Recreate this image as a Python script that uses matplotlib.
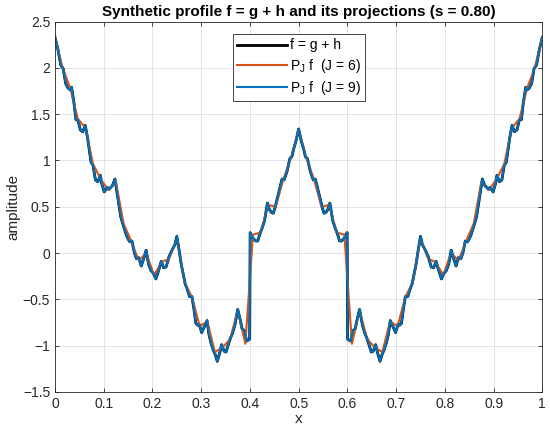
import numpy as np
import matplotlib
matplotlib.use("Agg")
import matplotlib.pyplot as plt

plt.rcParams['font.family'] = ['Liberation Sans', 'DejaVu Sans']

# f = g + h (left half, then right half)
x_f = [0.000, 0.006, 0.012, 0.017, 0.022, 0.027, 0.032, 0.034, 0.039, 0.043,
       0.047, 0.052, 0.057, 0.062, 0.067, 0.074, 0.078, 0.083, 0.088, 0.093,
       0.096, 0.101, 0.107, 0.111, 0.118, 0.123, 0.128, 0.135, 0.140, 0.146,
       0.150, 0.154, 0.158, 0.163, 0.167, 0.172, 0.177, 0.182, 0.187, 0.192,
       0.197, 0.202, 0.207, 0.212, 0.218, 0.223, 0.228, 0.234, 0.241, 0.246,
       0.250, 0.255, 0.259, 0.264, 0.267, 0.272, 0.276, 0.281, 0.285, 0.289,
       0.293, 0.296, 0.301, 0.306, 0.312, 0.316, 0.320, 0.325, 0.329, 0.333,
       0.338, 0.342, 0.347, 0.351, 0.355, 0.360, 0.364, 0.369, 0.375, 0.380,
       0.384, 0.389, 0.393, 0.397, 0.3995, 0.4005, 0.404, 0.408, 0.412, 0.416,
       0.420, 0.425, 0.430, 0.436, 0.440, 0.444, 0.448, 0.452, 0.458, 0.462,
       0.466, 0.470, 0.476, 0.482, 0.486, 0.490, 0.494, 0.500,
       0.506, 0.510, 0.514, 0.518, 0.524, 0.530, 0.534, 0.538, 0.542, 0.548,
       0.552, 0.556, 0.560, 0.564, 0.570, 0.575, 0.580, 0.584, 0.588, 0.592,
       0.596, 0.5995, 0.6005, 0.603, 0.607, 0.611, 0.616, 0.620, 0.625, 0.631,
       0.636, 0.640, 0.645, 0.649, 0.653, 0.658, 0.662, 0.667, 0.671, 0.675,
       0.680, 0.684, 0.688, 0.694, 0.699, 0.704, 0.707, 0.711, 0.715, 0.719,
       0.724, 0.728, 0.733, 0.736, 0.741, 0.745, 0.750, 0.754, 0.759, 0.766,
       0.772, 0.777, 0.782, 0.788, 0.793, 0.798, 0.803, 0.808, 0.813, 0.818,
       0.823, 0.828, 0.833, 0.837, 0.842, 0.846, 0.850, 0.854, 0.860, 0.865,
       0.872, 0.877, 0.882, 0.889, 0.893, 0.899, 0.904, 0.907, 0.912, 0.917,
       0.922, 0.926, 0.933, 0.938, 0.943, 0.948, 0.953, 0.957, 0.961, 0.966,
       0.968, 0.973, 0.978, 0.983, 0.988, 0.994, 1.000]
f_vals = [2.33, 2.20, 2.03, 1.99, 1.83, 1.78, 1.76, 1.79, 1.62, 1.44,
          1.44, 1.33, 1.31, 1.38, 1.24, 0.98, 0.95, 0.79, 0.77, 0.84,
          0.75, 0.66, 0.71, 0.69, 0.73, 0.80, 0.63, 0.39, 0.30, 0.20,
          0.15, 0.12, 0.13, 0.00, -0.06, -0.05, -0.14, -0.06, 0.03, -0.12,
          -0.19, -0.22, -0.28, -0.20, -0.09, -0.16, -0.15, -0.04, 0.04, 0.09,
          0.18, 0.02, -0.12, -0.25, -0.33, -0.40, -0.47, -0.47, -0.60, -0.76,
          -0.78, -0.77, -0.86, -0.80, -0.73, -0.88, -0.97, -1.05, -1.10, -1.17,
          -1.08, -0.99, -1.06, -1.07, -1.00, -0.92, -0.87, -0.78, -0.61, -0.72,
          -0.82, -0.84, -0.95, -0.94, -0.93, 0.22, 0.18, 0.15, 0.13, 0.13,
          0.20, 0.27, 0.35, 0.54, 0.47, 0.44, 0.43, 0.50, 0.63, 0.72,
          0.80, 0.79, 0.88, 1.02, 1.04, 1.13, 1.20, 1.34,
          1.20, 1.13, 1.04, 1.02, 0.88, 0.79, 0.80, 0.72, 0.63, 0.50,
          0.43, 0.44, 0.47, 0.54, 0.35, 0.27, 0.20, 0.13, 0.13, 0.15,
          0.18, 0.22, -0.93, -0.94, -0.95, -0.84, -0.82, -0.72, -0.61, -0.78,
          -0.87, -0.92, -1.00, -1.07, -1.06, -0.99, -1.08, -1.17, -1.10, -1.05,
          -0.97, -0.88, -0.73, -0.80, -0.86, -0.77, -0.78, -0.76, -0.60, -0.47,
          -0.47, -0.40, -0.33, -0.25, -0.12, 0.02, 0.18, 0.09, 0.04, -0.04,
          -0.15, -0.16, -0.09, -0.20, -0.28, -0.22, -0.19, -0.12, 0.03, -0.06,
          -0.14, -0.05, -0.06, 0.00, 0.13, 0.12, 0.15, 0.20, 0.30, 0.39,
          0.63, 0.80, 0.73, 0.69, 0.71, 0.66, 0.75, 0.84, 0.77, 0.79,
          0.95, 0.98, 1.24, 1.38, 1.31, 1.33, 1.44, 1.44, 1.62, 1.79,
          1.76, 1.78, 1.83, 1.99, 2.03, 2.20, 2.33]

# P_J f with J = 9 sits on top of f at this resolution
pj9_vals = list(f_vals)

# P_J f with J = 6, one value per dyadic node k/64
x_j6 = np.linspace(0, 1, 65)
pj6_vals = [2.33, 2.00, 1.78, 1.45, 1.35, 0.96, 0.80, 0.68, 0.77, 0.32,
            0.13, -0.08, 0.00, -0.24, -0.10, -0.06, 0.16, -0.31, -0.48, -0.79,
            -0.74, -1.07, -1.02, -0.93, -0.62, -0.98, 0.20, 0.22, 0.52, 0.50,
            0.80, 1.03, 1.33, 1.03, 0.80, 0.50, 0.52, 0.22, 0.20, -0.98,
            -0.62, -0.93, -1.02, -1.07, -0.74, -0.79, -0.48, -0.31, 0.16, -0.06,
            -0.10, -0.24, 0.00, -0.08, 0.13, 0.32, 0.77, 0.68, 0.80, 0.96,
            1.35, 1.45, 1.78, 2.00, 2.33]

fig = plt.figure(figsize=(5.5, 4.33), dpi=100)
ax = fig.add_axes([0.1, 0.095, 0.886, 0.855])

ax.plot(x_f, f_vals, color='black', lw=2.0, label='f = g + h')
ax.plot(x_j6, pj6_vals, color='#D95319', lw=1.5, label=r'P$_{\mathregular{J}}$ f  (J = 6)')
ax.plot(x_f, pj9_vals, color='#0072BD', lw=1.5, label=r'P$_{\mathregular{J}}$ f  (J = 9)')

ax.set_xlim(0, 1)
ax.set_ylim(-1.5, 2.5)
ax.set_xticks(np.arange(0, 1.01, 0.1))
ax.set_xticklabels(['0', '0.1', '0.2', '0.3', '0.4', '0.5', '0.6', '0.7', '0.8', '0.9', '1'])
ax.set_yticks(np.arange(-1.5, 2.51, 0.5))
ax.set_yticklabels(['\u22121.5', '\u22121', '\u22120.5', '0', '0.5', '1', '1.5', '2', '2.5'])
ax.grid(True, color='#dfdfdf', lw=0.6)
ax.tick_params(direction='in', length=3, top=True, right=True, labelsize=10,
               colors='#262626', width=0.6)
for s in ax.spines.values():
    s.set_color('#262626')
    s.set_linewidth(0.6)

ax.set_xlabel('x', fontsize=11, color='#262626', labelpad=1)
ax.set_ylabel('amplitude', fontsize=11, color='#262626', labelpad=2)
ax.set_title('Synthetic profile f = g + h and its projections (s = 0.80)',
             fontsize=11, fontweight='bold', pad=4)

leg = ax.legend(loc='upper center', bbox_to_anchor=(0.5, 0.966), fontsize=10,
                fancybox=False, framealpha=1, edgecolor='#262626',
                borderpad=0.3, labelspacing=0.3, handlelength=3.6,
                handletextpad=0.2, borderaxespad=0)
leg.get_frame().set_linewidth(0.6)

fig.savefig('out.png', dpi=100)
